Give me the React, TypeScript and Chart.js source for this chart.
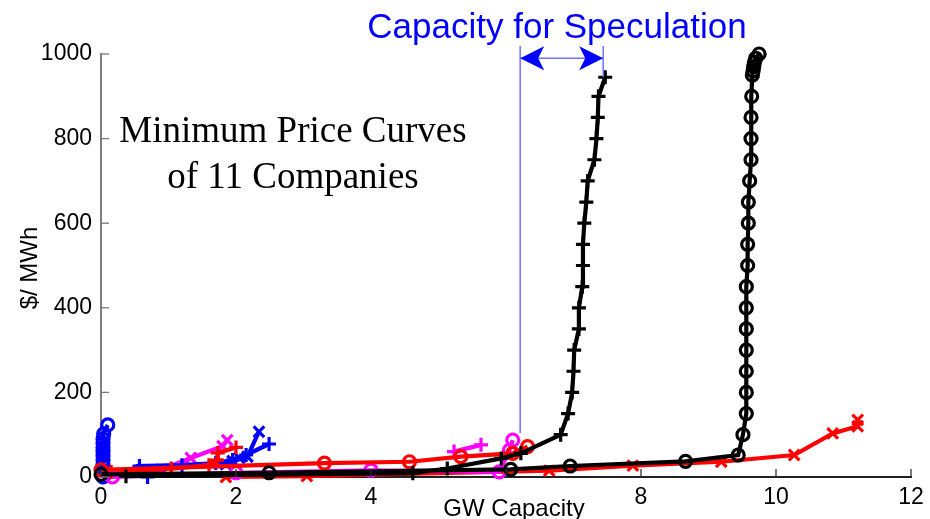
import { useEffect, useRef } from "react";
import { Chart, registerables } from "chart.js";
import type { ChartConfiguration, Plugin } from "chart.js";

Chart.register(...registerables);

const xTicks = [0, 2, 4, 6, 8, 10, 12];
const yTicks = [0, 200, 400, 600, 800, 1000];

// black "+" company (the one with speculation capacity)
const blackPlusX = [0.37, 4.62, 5.13, 5.93, 6.22, 6.81, 6.92, 6.98, 7.0, 7.01, 7.08, 7.08, 7.13, 7.14, 7.14, 7.16, 7.19, 7.21, 7.31, 7.34, 7.36, 7.37, 7.47];
const blackPlusY = [2, 9, 20, 44, 56, 100, 150, 200, 250, 300, 350, 400, 450, 500, 550, 600, 650, 700, 750, 800, 850, 900, 945];

const blackCircleX = [0, 2.49, 6.07, 6.95, 8.66, 9.44, 9.51, 9.56, 9.56, 9.56, 9.56, 9.56, 9.56, 9.56, 9.58, 9.58, 9.59, 9.59, 9.61, 9.63, 9.63, 9.63, 9.64, 9.65, 9.66, 9.67, 9.68, 9.7, 9.75];
const blackCircleY = [6, 10, 18, 26, 37, 52, 100, 150, 200, 250, 300, 350, 400, 450, 500, 550, 600, 650, 700, 750, 800, 850, 900, 950, 960, 970, 980, 990, 1000];

const redCrossX = [1.85, 3.05, 6.64, 7.88, 9.19, 10.27, 10.84, 11.21, 11.21];
const redCrossY = [0, 2, 15, 27, 36, 52, 103, 120, 135];

const redCircleX = [0, 3.31, 4.57, 5.33, 6.1, 6.32];
const redCircleY = [17, 33, 36, 48, 56, 72];

const redPlusX = [0.15, 1.04, 1.6, 1.72, 1.73, 2.0];
const redPlusY = [12, 20, 28, 40, 57, 70];

const blueCircleX = [0.03, 0.03, 0.03, 0.03, 0.03, 0.03, 0.03, 0.03, 0.04, 0.1];
const blueCircleY = [0, 30, 40, 50, 60, 70, 80, 90, 102, 123];

const bluePlusX = [0.69, 0.57, 1.2, 1.7, 1.95, 2.15, 2.49];
const bluePlusY = [0, 26, 28, 33, 40, 52, 78];

const blueCrossX = [1.85, 1.95, 2.05, 2.17, 2.34];
const blueCrossY = [30, 38, 45, 48, 107];

const magentaCrossX = [0.2, 0.9, 1.33, 1.8, 1.87];
const magentaCrossY = [8, 18, 45, 73, 87];

const magentaPlusX = [5.23, 5.63];
const magentaPlusY = [60, 76];

const magentaCircleX = [0.17, 2.0, 4.0, 5.9, 6.05, 6.1];
const magentaCircleY = [0, 10, 16, 12, 63, 87];

// "Capacity for Speculation" marker, in data units
const specLeft = 6.21;
const specRight = 7.44;
const specTop = 1019;
const specArrowY = 990;
const specLeftBottom = 104;
const specRightBottom = 946;

const SANS = '"Liberation Sans", Arial, sans-serif';
const SERIF = '"Liberation Serif", "Times New Roman", serif';

const pts = (xs: number[], ys: number[]) => xs.map((x, i) => ({ x, y: ys[i] }));

function series(xs: number[], ys: number[], color: string, style: string, radius: number) {
  return {
    data: pts(xs, ys),
    showLine: true,
    borderColor: color,
    borderWidth: 4.2,
    pointStyle: style,
    pointRadius: radius,
    pointBorderColor: color,
    pointBackgroundColor: "rgba(0,0,0,0)",
    pointBorderWidth: 3.2,
    tension: 0,
    clip: false as const,
  };
}

const overlay: Plugin = {
  id: "overlay",
  afterDraw(chart) {
    const { ctx } = chart;
    const x = chart.scales.x;
    const y = chart.scales.y;
    ctx.save();

    // inward tick marks
    ctx.lineWidth = 1.3;
    ctx.strokeStyle = "#333";
    xTicks.forEach((v) => {
      const px = x.getPixelForValue(v);
      ctx.beginPath();
      ctx.moveTo(px, y.bottom);
      ctx.lineTo(px, y.bottom - 8);
      ctx.stroke();
    });
    ctx.strokeStyle = "#777";
    yTicks.forEach((v) => {
      const py = y.getPixelForValue(v);
      ctx.beginPath();
      ctx.moveTo(x.left, py);
      ctx.lineTo(x.left + 8, py);
      ctx.stroke();
    });

    // speculation bracket
    const l = x.getPixelForValue(specLeft);
    const r = x.getPixelForValue(specRight);
    const t = y.getPixelForValue(specTop);
    const ay = y.getPixelForValue(specArrowY);
    ctx.strokeStyle = "#7070ff";
    ctx.lineWidth = 1.5;
    ctx.beginPath();
    ctx.moveTo(l, t);
    ctx.lineTo(l, y.getPixelForValue(specLeftBottom));
    ctx.moveTo(r, t);
    ctx.lineTo(r, y.getPixelForValue(specRightBottom));
    ctx.moveTo(l, ay);
    ctx.lineTo(r, ay);
    ctx.stroke();
    ctx.fillStyle = "#0000ff";
    const head = (tip: number, dir: number) => {
      ctx.beginPath();
      ctx.moveTo(tip, ay);
      ctx.lineTo(tip + dir * 24, ay - 12);
      ctx.lineTo(tip + dir * 18, ay);
      ctx.lineTo(tip + dir * 24, ay + 12);
      ctx.closePath();
      ctx.fill();
    };
    head(l, 1);
    head(r, -1);

    ctx.textAlign = "center";
    ctx.textBaseline = "alphabetic";
    ctx.font = `35px ${SANS}`;
    ctx.fillStyle = "#0000ff";
    ctx.fillText("Capacity for Speculation", 557, 38);

    ctx.font = `37px ${SERIF}`;
    ctx.fillStyle = "#000";
    ctx.fillText("Minimum Price Curves", 293, 142);
    ctx.fillText("of 11 Companies", 293, 188);

    // axis titles (x label sits on a white box over the tick row)
    ctx.fillStyle = "#fff";
    ctx.fillRect(437, 484, 155, 35);
    ctx.fillStyle = "#000";
    ctx.font = `24px ${SANS}`;
    ctx.fillText("GW Capacity", 514, 516);
    ctx.translate(30, 268);
    ctx.rotate(-Math.PI / 2);
    ctx.textBaseline = "middle";
    ctx.fillText("$/ MWh", 0, 0);

    ctx.restore();
  },
};

export default function App() {
  const canvasRef = useRef<HTMLCanvasElement | null>(null);

  useEffect(() => {
    if (!canvasRef.current) return;
    const config: ChartConfiguration<"scatter"> = {
      type: "scatter",
      data: {
        datasets: [
          series(blackPlusX, blackPlusY, "#000000", "cross", 7),
          series(blackCircleX, blackCircleY, "#000000", "circle", 6),
          series(redCircleX, redCircleY, "#ff0000", "circle", 6),
          series(magentaCircleX, magentaCircleY, "#ff00ff", "circle", 6),
          series(magentaPlusX, magentaPlusY, "#ff00ff", "cross", 7),
          series(redCrossX, redCrossY, "#ff0000", "crossRot", 7.5),
          series(redPlusX, redPlusY, "#ff0000", "cross", 7),
          series(blueCrossX, blueCrossY, "#0000ff", "crossRot", 7.5),
          series(bluePlusX, bluePlusY, "#0000ff", "cross", 7),
          series(magentaCrossX, magentaCrossY, "#ff00ff", "crossRot", 7.5),
          series(blueCircleX, blueCircleY, "#0000ff", "circle", 6),
        ] as any,
      },
      options: {
        animation: false,
        responsive: false,
        layout: { padding: { top: 54, right: 19, left: 0, bottom: 0 } },
        plugins: { legend: { display: false }, tooltip: { enabled: false } },
        scales: {
          x: {
            type: "linear",
            min: 0,
            max: 12,
            afterBuildTicks: (s) => {
              s.ticks = xTicks.map((value) => ({ value }));
            },
            afterFit: (s) => {
              s.height = 42;
              s.paddingLeft = 0;
              s.paddingRight = 0;
            },
            grid: { display: false, drawTicks: false },
            border: { display: true, color: "#222", width: 2 },
            ticks: {
              padding: 7,
              color: "#000",
              maxRotation: 0,
              font: { family: SANS, size: 23 },
              callback: (v) => String(v),
            },
          },
          y: {
            type: "linear",
            min: 0,
            max: 1000,
            afterBuildTicks: (s) => {
              s.ticks = yTicks.map((value) => ({ value }));
            },
            afterFit: (s) => {
              s.width = 101;
              s.paddingTop = 0;
              s.paddingBottom = 0;
            },
            grid: { display: false, drawTicks: false },
            border: { display: true, color: "#808080", width: 2 },
            ticks: {
              padding: 9,
              color: "#000",
              font: { family: SANS, size: 23 },
              callback: (v) => String(v),
            },
          },
        },
      },
      plugins: [overlay],
    };
    const chart = new Chart(canvasRef.current, config);
    return () => chart.destroy();
  }, []);

  return (
    <canvas
      ref={canvasRef}
      width={930}
      height={519}
      style={{ position: "absolute", left: 0, top: 0, background: "#fff" }}
    />
  );
}
